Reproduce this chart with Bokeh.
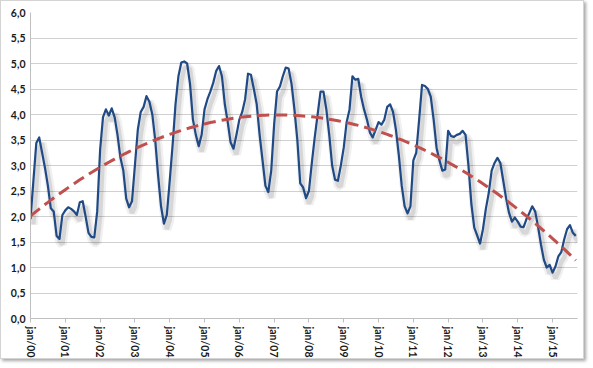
import math
import numpy as np
from bokeh.plotting import figure
from bokeh.models import FixedTicker, CustomJSTickFormatter, Range1d
from bokeh.embed import file_html
from bokeh.resources import INLINE

# monthly values, jan/00 .. sep/15
y2000 = [1.95, 2.70, 3.44, 3.55, 3.25, 2.95, 2.60, 2.16, 2.10, 1.62, 1.56, 2.03]
y2001 = [2.12, 2.18, 2.15, 2.10, 2.03, 2.28, 2.30, 2.00, 1.68, 1.60, 1.59, 2.10]
y2002 = [3.30, 3.95, 4.10, 3.98, 4.12, 3.95, 3.60, 3.15, 2.90, 2.35, 2.18, 2.30]
y2003 = [3.00, 3.70, 4.05, 4.15, 4.36, 4.25, 4.00, 3.50, 2.80, 2.20, 1.86, 2.03]
y2004 = [2.70, 3.40, 4.20, 4.75, 5.02, 5.04, 5.00, 4.60, 3.90, 3.60, 3.38, 3.60]
y2005 = [4.10, 4.30, 4.45, 4.62, 4.85, 4.95, 4.75, 4.20, 3.85, 3.45, 3.33, 3.60]
y2006 = [3.90, 4.05, 4.30, 4.80, 4.78, 4.50, 4.20, 3.60, 3.10, 2.60, 2.48, 2.90]
y2007 = [3.80, 4.45, 4.55, 4.75, 4.92, 4.90, 4.60, 4.10, 3.50, 2.65, 2.57, 2.36]
y2008 = [2.50, 3.05, 3.55, 4.00, 4.45, 4.45, 4.10, 3.60, 3.00, 2.72, 2.70, 3.00]
y2009 = [3.35, 3.85, 4.10, 4.75, 4.68, 4.70, 4.35, 4.10, 3.90, 3.65, 3.55, 3.70]
y2010 = [3.85, 3.80, 3.90, 4.15, 4.20, 4.05, 3.70, 3.20, 2.60, 2.20, 2.06, 2.20]
y2011 = [3.10, 3.25, 3.90, 4.58, 4.56, 4.50, 4.35, 3.90, 3.35, 3.10, 2.90, 2.92]
y2012 = [3.68, 3.58, 3.56, 3.60, 3.62, 3.68, 3.60, 3.00, 2.25, 1.78, 1.63, 1.47]
y2013 = [1.75, 2.15, 2.46, 2.90, 3.05, 3.15, 3.05, 2.70, 2.35, 2.07, 1.90, 1.98]
y2014 = [1.90, 1.80, 1.79, 1.95, 2.07, 2.20, 2.10, 1.80, 1.45, 1.15, 1.00, 1.05]
y2015 = [0.90, 1.02, 1.22, 1.30, 1.55, 1.75, 1.83, 1.68, 1.62]

tick_labels = ["jan/00", "jan/01", "jan/02", "jan/03", "jan/04", "jan/05", "jan/06", "jan/07",
               "jan/08", "jan/09", "jan/10", "jan/11", "jan/12", "jan/13", "jan/14", "jan/15"]

values = (y2000 + y2001 + y2002 + y2003 + y2004 + y2005 + y2006 + y2007 +
          y2008 + y2009 + y2010 + y2011 + y2012 + y2013 + y2014 + y2015)
idx = np.arange(len(values))

# polynomial (order 2) trendline, as in the original chart
coef = np.polyfit(idx, values, 2)
trend = np.polyval(coef, idx)

x_end = len(values) - 0.4

p = figure(width=584, height=359, output_backend="svg", toolbar_location=None,
           x_range=Range1d(0, x_end), y_range=Range1d(0, 6),
           min_border_left=29, min_border_top=11, min_border_right=8, min_border_bottom=42)
p.background_fill_color = "white"
p.border_fill_color = "white"
p.outline_line_color = None
p.styles = {"border": "1px solid #d4d4d4", "box-shadow": "2px 2px 3px rgba(0,0,0,0.35)"}

# shadow ranges (shifted so the shadow appears right/down of the line)
p.extra_x_ranges = {"sh": Range1d(-1.0, x_end - 1.0)}
p.extra_y_ranges = {"sh": Range1d(0.11, 6.11)}

p.line(idx, values, x_range_name="sh", y_range_name="sh", line_color="black",
       line_alpha=0.06, line_width=9)
p.line(idx, values, x_range_name="sh", y_range_name="sh", line_color="black",
       line_alpha=0.10, line_width=4.5)

p.line(idx, values, line_color="#1F4A86", line_width=2.2, line_join="round")
p.line(idx, trend, line_color="#C0504D", line_width=3, line_dash="12 6")

# axes
p.xgrid.visible = False
p.ygrid.grid_line_color = "#D0D0D0"
p.ygrid.grid_line_width = 1
p.yaxis.ticker = FixedTicker(ticks=[i * 0.5 for i in range(13)])
p.yaxis.formatter = CustomJSTickFormatter(code="return tick.toFixed(1).replace('.', ',');")
p.xaxis.ticker = FixedTicker(ticks=[12 * k for k in range(len(tick_labels))])
p.xaxis.major_label_overrides = {12 * k: lab for k, lab in enumerate(tick_labels)}
p.xaxis.major_label_orientation = -math.pi / 2

for ax in (p.xaxis[0], p.yaxis[0]):
    ax.axis_line_color = "#BFBFBF"
    ax.axis_line_width = 1
    ax.major_tick_line_color = "#BFBFBF"
    ax.minor_tick_line_color = None
    ax.major_tick_in = 0
    ax.major_label_text_font = "Lato"
    ax.major_label_text_font_style = "bold"
    ax.major_label_text_font_size = "10.5px"
    ax.major_label_text_color = "#1a1a1a"
p.xaxis.major_tick_out = 4
p.yaxis.major_tick_out = 0
p.xaxis.major_label_standoff = 4
p.yaxis.major_label_standoff = 5

open("out.html", "w").write(file_html(p, INLINE))
